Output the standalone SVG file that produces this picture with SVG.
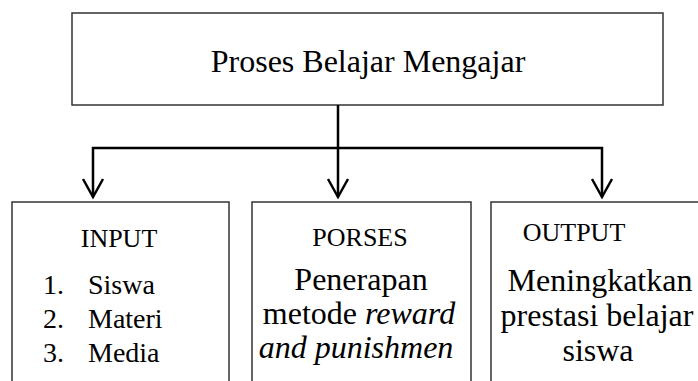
<svg xmlns="http://www.w3.org/2000/svg" width="698" height="381" viewBox="0 0 698 381">
<style>
.box{fill:#fff;stroke:#333;stroke-width:1.5}
.t{font-family:"Liberation Serif","Times New Roman",serif;fill:#000}
.c{stroke:#000;stroke-width:2.5;fill:none}
</style>
<rect width="698" height="381" fill="#fff"/>
<g id="top">
<rect class="box" x="72" y="13" width="591" height="92"/>
<text class="t" x="368" y="72" font-size="32" text-anchor="middle">Proses Belajar Mengajar</text>
</g>
<g id="connectors">
<path class="c" d="M338 105V197M93 197V148H602V197"/>
<path class="c" d="M83 179L93 197L103 179M328 179L338 197L348 179M592 179L602 197L612 179"/>
</g>
<g id="input">
<rect class="box" x="12" y="202" width="217" height="200"/>
<text class="t" x="119" y="247" font-size="26" text-anchor="middle">INPUT</text>
<text class="t" font-size="28"><tspan x="43" y="294">1.</tspan><tspan x="88" y="294">Siswa</tspan><tspan x="43" y="328">2.</tspan><tspan x="88" y="328">Materi</tspan><tspan x="43" y="362">3.</tspan><tspan x="88" y="362">Media</tspan></text>
</g>
<g id="proses">
<rect class="box" x="252" y="202" width="219" height="200"/>
<text class="t" x="360" y="246" font-size="26" text-anchor="middle">PORSES</text>
<text class="t" font-size="32" text-anchor="middle"><tspan x="361" y="290">Penerapan</tspan><tspan x="359" y="324">metode <tspan font-style="italic">reward</tspan></tspan><tspan x="356" y="358" font-style="italic">and punishmen</tspan></text>
</g>
<g id="output">
<rect class="box" x="491" y="202" width="220" height="200"/>
<text class="t" x="574" y="241" font-size="26" text-anchor="middle">OUTPUT</text>
<text class="t" font-size="32" text-anchor="middle"><tspan x="600" y="291">Meningkatkan</tspan><tspan x="597" y="326">prestasi belajar</tspan><tspan x="598" y="361">siswa</tspan></text>
</g>
</svg>
